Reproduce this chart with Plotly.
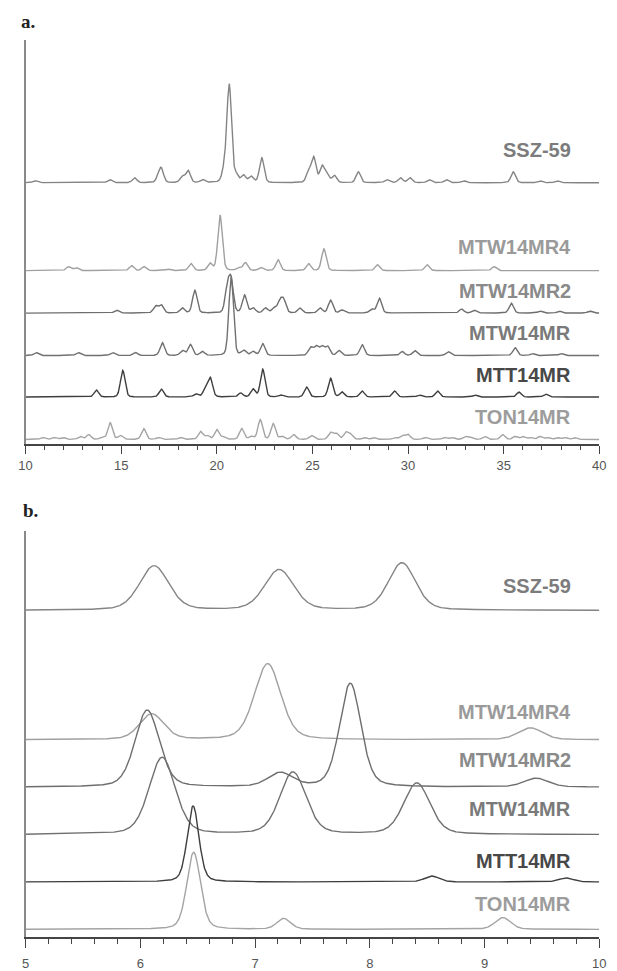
import numpy as np
import plotly.graph_objects as go

W, H = 617, 971

# ---------------- DATA: panel a (2-theta 10-40) ----------------
names = ["SSZ-59", "MTW14MR4", "MTW14MR2", "MTW14MR", "MTT14MR", "TON14MR"]

ssz59_a_pos = [10.5, 14.4, 15.7, 16.95, 17.1, 18.2, 18.5, 19.25, 20.4, 20.65, 21.0, 21.4, 21.8,
               22.35, 24.8, 25.07, 25.5, 25.75, 26.15, 27.4, 28.9, 29.6, 30.1, 31.1, 32.0, 32.9,
               35.5, 36.9, 37.8]
ssz59_a_h = [2, 3, 5, 5, 13, 6, 12, 3, 13, 98, 7, 7, 6,
             25, 11, 25, 16, 9, 7, 11, 3, 5, 5, 3, 3, 2,
             11, 2, 2]

mtw4_a_pos = [12.25, 12.65, 15.55, 16.2, 17.45, 18.65, 19.65, 20.17, 21.15, 21.5, 22.3, 23.2,
              24.8, 25.6, 28.4, 31.0, 34.5]
mtw4_a_h = [4, 3, 5, 4, 1.5, 7, 7, 56, 3, 8, 3, 11, 7, 22, 6, 6, 4]

mtw2_a_pos = [14.75, 16.8, 17.1, 18.2, 18.85, 20.55, 20.75, 21.45, 21.9, 22.55, 23.0, 23.3, 23.5,
              24.35, 25.4, 25.95, 26.55, 28.1, 28.5, 32.8, 33.45, 35.4, 36.9, 37.9, 39.5]
mtw2_a_h = [3, 7, 8, 5, 23, 24, 31, 18, 5, 5, 5, 11, 12,
            5, 5, 13, 3, 4, 15, 4, 3, 10, 2, 2, 2]

mtw_a_pos = [10.55, 12.75, 14.55, 15.75, 17.15, 18.2, 18.62, 19.25, 20.75, 21.4, 21.9, 22.4,
             24.9, 25.2, 25.5, 25.8, 26.4, 27.6, 29.7, 30.35, 32.1, 35.6, 36.5, 38.0]
mtw_a_h = [3, 3, 3, 3, 13, 5, 11, 4, 80, 5, 4, 12,
           8, 9, 9, 9, 5, 11, 4, 5, 4, 8, 2, 2]

mtt_a_pos = [13.7, 15.08, 17.1, 18.9, 19.4, 19.66, 21.25, 21.9, 22.4, 23.35, 24.7, 25.95, 26.55,
             27.6, 29.3, 30.6, 31.55, 33.5, 35.8, 37.2]
mtt_a_h = [7, 27, 8, 3, 8, 19, 4, 8, 28, 2, 10, 19, 5, 6, 6, 2, 6, 2, 5, 3]

ton_a_pos = [10.9, 11.5, 11.95, 12.85, 13.3, 14.0, 14.42, 14.95, 16.18, 16.95, 18.1, 19.15, 19.5,
             20.0, 20.35, 21.3, 21.8, 22.27, 22.95, 23.4, 24.02, 24.95, 25.95, 26.25, 26.75, 27.0,
             27.7, 28.2, 29.3, 29.7, 30.0, 30.9, 31.9, 32.3, 33.0, 33.3, 34.0, 34.95, 35.6,
             36.0, 36.4, 36.9, 37.3, 37.8, 38.2, 38.7]
ton_a_h = [2, 2, 2, 3, 5, 2, 17, 4, 11, 2, 2, 8, 4,
           10, 3, 11, 3, 20, 16, 3, 5, 4, 7, 6, 7, 5,
           2, 2, 2, 4, 5, 2, 2, 2, 3, 2, 3, 5, 3,
           3, 2, 3, 2, 2, 2, 2]

peaks_a = [(ssz59_a_pos, ssz59_a_h), (mtw4_a_pos, mtw4_a_h), (mtw2_a_pos, mtw2_a_h),
           (mtw_a_pos, mtw_a_h), (mtt_a_pos, mtt_a_h), (ton_a_pos, ton_a_h)]

# ---------------- DATA: panel b (2-theta 5-10) ----------------
ssz59_b_pos = [6.12, 7.21, 8.28]
ssz59_b_h = [45, 41, 48]
ssz59_b_w = [0.30, 0.30, 0.28]

mtw4_b_pos = [6.10, 7.11, 9.40]
mtw4_b_h = [26, 77, 12]
mtw4_b_w = [0.25, 0.27, 0.25]

mtw2_b_pos = [6.06, 7.22, 7.83, 9.45]
mtw2_b_h = [78, 14, 105, 9]
mtw2_b_w = [0.25, 0.25, 0.22, 0.25]

mtw_b_pos = [6.19, 7.33, 8.41]
mtw_b_h = [78, 63, 52]
mtw_b_w = [0.27, 0.27, 0.27]

mtt_b_pos = [6.46, 8.54, 9.71]
mtt_b_h = [77, 6, 4]
mtt_b_w = [0.12, 0.15, 0.15]

ton_b_pos = [6.465, 7.25, 9.16]
ton_b_h = [78, 11, 12]
ton_b_w = [0.14, 0.14, 0.16]

peaks_b = [(ssz59_b_pos, ssz59_b_h, ssz59_b_w), (mtw4_b_pos, mtw4_b_h, mtw4_b_w),
           (mtw2_b_pos, mtw2_b_h, mtw2_b_w), (mtw_b_pos, mtw_b_h, mtw_b_w),
           (mtt_b_pos, mtt_b_h, mtt_b_w), (ton_b_pos, ton_b_h, ton_b_w)]

# ---------------- STYLE / LAYOUT ----------------
offsets_a = [265, 176, 133, 90, 48, 5]
offsets_b = [331, 200, 152, 104, 56, 8]
line_colors = ["#848484", "#a0a0a0", "#6e6e6e", "#707070", "#3e3e3e", "#a4a4a4"]
label_colors = ["#7c7c7c", "#9a9a9a", "#8a8a8a", "#7a7a7a", "#484848", "#9c9c9c"]
label_y_a = [152, 250, 295, 337, 380, 422]
label_y_b = [593, 721, 770, 819, 872, 915]


def profile(x, pos, h, w, eta):
    y = np.zeros_like(x)
    for p, a, f in zip(pos, h, w):
        g = np.exp(-4 * np.log(2) * ((x - p) / f) ** 2)
        l = 1.0 / (1.0 + 4 * ((x - p) / f) ** 2)
        y += a * ((1 - eta) * g + eta * l)
    return y


fig = go.Figure()

xa = np.arange(10, 40.0001, 0.01)
for i, (pos, h) in enumerate(peaks_a):
    w = [0.28] * len(pos)
    y = profile(xa, pos, h, w, 0.2) + offsets_a[i]
    fig.add_trace(go.Scatter(x=xa, y=y, mode="lines", xaxis="x", yaxis="y",
                             line=dict(color=line_colors[i], width=1.4), hoverinfo="skip"))

xb = np.arange(5, 10.0001, 0.004)
for i, (pos, h, w) in enumerate(peaks_b):
    y = profile(xb, pos, h, w, 0.3) + offsets_b[i]
    fig.add_trace(go.Scatter(x=xb, y=y, mode="lines", xaxis="x2", yaxis="y2",
                             line=dict(color=line_colors[i], width=1.4), hoverinfo="skip"))

xd = [19 / W, 606 / W]
ax_common = dict(showgrid=False, zeroline=False, showline=True, linecolor="#444444",
                 linewidth=1.6, ticks="outside", tickwidth=1.3, tickcolor="#444444",
                 tickfont=dict(family="Liberation Sans", size=13, color="#555555"))
ay_common = dict(showgrid=False, zeroline=False, showline=True, linecolor="#8a8a8a",
                 linewidth=2, showticklabels=False, ticks="")

fig.update_layout(
    width=W, height=H, margin=dict(l=0, r=0, t=0, b=0),
    paper_bgcolor="white", plot_bgcolor="white", showlegend=False,
    xaxis=dict(domain=xd, anchor="y", range=[10, 40], tickvals=[10, 15, 20, 25, 30, 35, 40],
               ticklen=8,
               minor=dict(dtick=1, ticklen=4, ticks="outside", tickcolor="#444444", tickwidth=1),
               **ax_common),
    yaxis=dict(domain=[1 - 450 / H, 1 - 40 / H], anchor="x", range=[0, 410], **ay_common),
    xaxis2=dict(domain=xd, anchor="y2", range=[5, 10], tickvals=[5, 6, 7, 8, 9, 10],
                ticklen=9, ticklabelstandoff=4,
                minor=dict(dtick=0.2, ticklen=5, ticks="outside", tickcolor="#444444", tickwidth=1),
                **ax_common),
    yaxis2=dict(domain=[1 - 949 / H, 1 - 538 / H], anchor="x2", range=[0, 411], **ay_common),
)

annots = []
for i, n in enumerate(names):
    for ly in (label_y_a[i], label_y_b[i]):
        annots.append(dict(text=n, xref="paper", yref="paper", x=579 / W, y=1 - ly / H,
                           xanchor="right", yanchor="middle", showarrow=False,
                           font=dict(family="Liberation Sans", size=20, weight="bold",
                                     color=label_colors[i])))
for t, lx, ly in (("a.", 12, 22), ("b.", 14, 517)):
    annots.append(dict(text=t, xref="paper", yref="paper", x=lx / W, y=1 - ly / H,
                       xanchor="left", yanchor="middle", showarrow=False,
                       font=dict(family="Liberation Serif", size=19, weight="bold", color="#222222")))
fig.update_layout(annotations=annots)

fig.write_html("out.html")
